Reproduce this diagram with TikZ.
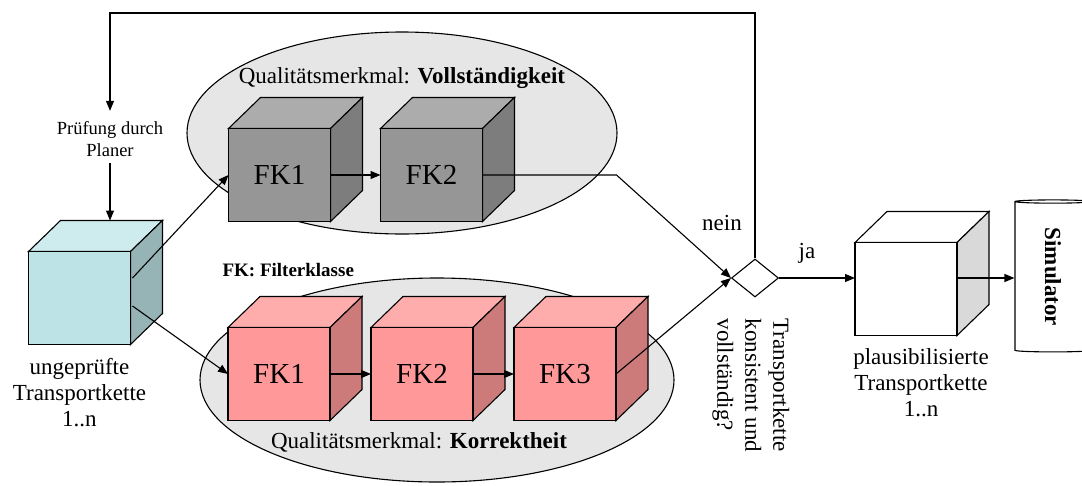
\documentclass[tikz,border=0pt]{standalone}
\usepackage{fontspec}
\setmainfont{Liberation Serif}
\usepackage{tikz}
\usetikzlibrary{arrows.meta,calc,positioning,shapes.geometric}

\definecolor{tkfront}{RGB}{190,227,230}
\definecolor{tktop}{RGB}{206,235,237}
\definecolor{tkside}{RGB}{150,180,182}
\definecolor{grfront}{RGB}{150,150,150}
\definecolor{grtop}{RGB}{172,172,172}
\definecolor{grside}{RGB}{125,125,125}
\definecolor{rsfront}{RGB}{255,153,153}
\definecolor{rstop}{RGB}{255,172,172}
\definecolor{rsside}{RGB}{204,122,122}
\definecolor{wside}{RGB}{217,217,217}
\definecolor{merkmalfill}{RGB}{230,230,230}

\tikzset{
	flow/.style={x=1pt, y=-1pt, line width=1.1pt,
		>={Triangle[length=10pt,width=8pt]}},
	txt/.style={font=\fontsize{23}{26}\selectfont, align=center, inner sep=0pt},
	small txt/.style={font=\fontsize{18.5}{22}\selectfont, align=center, inner sep=0pt},
	merkmal/.style={ellipse, draw, fill=merkmalfill, inner sep=0pt},
	cube dx/.store in=\cubedx,
	cube dx=32,
	cube dy/.store in=\cubedy,
	cube dy=31,
	% front colour, top colour, side colour
	cube/.code n args={3}{
		\pgfkeysalso{draw, fill=#1, minimum width=102, minimum height=93,
			inner sep=0pt, outer sep=0pt, font=\fontsize{29}{32}\selectfont,
			prefix after command={\pgfextra{\let\fixname\tikzlastnode}},
			append after command={\pgfextra{
				\draw[fill=#2] (\fixname.north west) -- ++(\cubedx,-\cubedy)
					-- ($(\fixname.north east)+(\cubedx,-\cubedy)$) -- (\fixname.north east) -- cycle;
				\draw[fill=#3] (\fixname.north east) -- ++(\cubedx,-\cubedy)
					-- ($(\fixname.south east)+(\cubedx,-\cubedy)$) -- (\fixname.south east) -- cycle;
				\coordinate (\fixname-back) at ($(\fixname.north)+(\cubedx,-\cubedy)$);
			}}}
	}
}

\begin{document}
\begin{tikzpicture}[flow]
	\useasboundingbox (0,0) rectangle (1082,485);
	% Qualitaetsmerkmale
	\node[merkmal, minimum width=430, minimum height=202] (vollst) at (402,133) {};
	\node[merkmal, minimum width=474, minimum height=204] (korrekt) at (437,380) {};
	\node[txt] (vollst-titel) at (402,78) {Qualitätsmerkmal: \textbf{Vollständigkeit}};
	\node[txt] (korrekt-titel) at (419,442) {Qualitätsmerkmal: \textbf{Korrektheit}};
	\node[font=\bfseries\fontsize{19}{22}\selectfont, inner sep=0pt, anchor=west] (legende) at (222,270) {FK: Filterklasse};

	% Transportketten und Filterklassen
	\node[cube={tkfront}{tktop}{tkside}] (tk) at (79.5,298) {};
	\node[cube={grfront}{grtop}{grside}] (gk1) at (279.5,175) {FK1};
	\node[cube={grfront}{grtop}{grside}, right=50pt of gk1] (gk2) {FK2};
	\node[cube={rsfront}{rstop}{rsside}] (rk1) at (279,374) {FK1};
	\node[cube={rsfront}{rstop}{rsside}, right=41pt of rk1] (rk2) {FK2};
	\node[cube={rsfront}{rstop}{rsside}, right=41pt of rk2] (rk3) {FK3};
	\node[cube={white}{white}{wside}] (pk) at (906,289) {};
	\node[txt, below=13pt of tk] (tk-text) {ungeprüfte\\Transportkette\\1..n};
	\node[txt, below=12pt of pk, xshift=15pt] (pk-text) {plausibilisierte\\Transportkette\\1..n};
	\node[small txt] (pruef) at (110,139) {Prüfung durch\\Planer};

	% Entscheidung
	\node[diamond, draw, fill=white, minimum width=47, minimum height=38, inner sep=0pt] (frage) at (755,278) {};
	\node[txt, rotate=-90, align=left, anchor=north west, font=\fontsize{23}{28}\selectfont] (frage-text) at (790,318)
		{Transportkette\\konsistent und\\vollständig?};
	\node[txt] (nein) at (722,223) {nein};
	\node[txt] (ja) at (807,253) {ja};

	\node[cylinder, draw, fill=white, shape border rotate=90, aspect=0.2,
		minimum width=76, minimum height=152, inner sep=0pt,
		font=\bfseries\fontsize{23}{26}\selectfont] (sim) at (1053,277) {\rotatebox{-90}{Simulator}};

	\coordinate (oben) at (110,13);
	\coordinate (knick) at ($(gk2.east)+(134,0)$);

	% Verbindungen
	\draw[->] (frage.north) |- (oben) -- ([yshift=10pt]pruef.north);
	\draw[->] ([yshift=-6pt]pruef.south) -- (pruef.south |- tk-back);
	\draw[->] ([xshift=2pt,yshift=20pt]tk.east) -- (gk1.west);
	\draw[->] ([xshift=2pt,yshift=-8pt]tk.east) -- (rk1.west);
	\draw[->] (gk1.east) -- (gk2.west);
	\draw[->] (rk1.east) -- (rk2.west);
	\draw[->] (rk2.east) -- (rk3.west);
	\draw[->] (gk2.east) -- (knick) -- (frage.west);
	\draw[->] (rk3.east) -- (frage.west);
	\draw[->] (frage.east) -- (frage.east -| pk.west);
	\draw[->] (frage.east -| pk.east) -- (frage.east -| sim.west);
\end{tikzpicture}
\end{document}
